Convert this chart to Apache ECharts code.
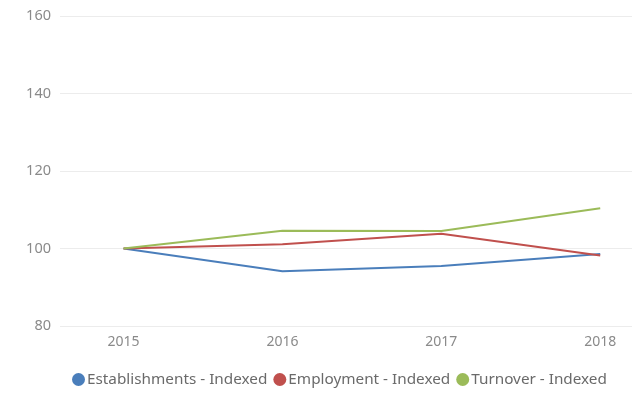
<!DOCTYPE html>
<html>
<head>
<meta charset="utf-8">
<script src="https://cdn.jsdelivr.net/npm/echarts@6/dist/echarts.min.js"></script>
<style>
  html, body { margin: 0; padding: 0; background: #fff; }
  #chart { width: 637px; height: 394px; }
</style>
</head>
<body>
<div id="chart"></div>
<script>
// Index values (2015 = 100)
const years = [2015, 2016, 2017, 2018];
const establishments = [100, 94.1, 95.5, 98.6];
const employment = [100, 101.1, 103.8, 98.2];
const turnover = [100, 104.6, 104.5, 110.4];
const seriesNames = ['Establishments - Indexed', 'Employment - Indexed', 'Turnover - Indexed'];
const seriesColors = ['#4a7ebb', '#c0504d', '#9bbb59'];

const pairs = vals => years.map((y, i) => [y, vals[i]]);

const chart = echarts.init(document.getElementById('chart'), null, { renderer: 'canvas' });
const font = '"Noto Sans", "Open Sans", sans-serif';

chart.setOption({
  animation: false,
  color: seriesColors,
  grid: { left: 60, right: 5, top: 16, bottom: 68 },
  xAxis: {
    type: 'value',
    min: 2014.6,
    max: 2018.2,
    interval: 0.2,
    axisLine: { show: false },
    axisTick: { show: false },
    splitLine: { show: false },
    axisLabel: {
      margin: 9,
      color: '#8a8a8a',
      fontSize: 14,
      fontFamily: font,
      showMinLabel: false,
      showMaxLabel: false,
      formatter: v => Math.abs(v - Math.round(v)) < 1e-6 ? String(Math.round(v)) : ''
    }
  },
  yAxis: {
    type: 'value',
    min: 80,
    max: 160,
    interval: 20,
    axisLine: { show: false },
    axisTick: { show: false },
    axisLabel: { margin: 9, color: '#8a8a8a', fontSize: 14.5, fontFamily: font },
    splitLine: { lineStyle: { color: '#ececec', width: 1 } }
  },
  legend: {
    top: 367,
    left: 67,
    icon: 'circle',
    itemWidth: 13,
    itemHeight: 13,
    itemGap: 6,
    textStyle: { color: '#6a6a6a', fontSize: 15.3, fontFamily: font, padding: [0, 0, 0, -3] },
    data: seriesNames
  },
  series: [
    { name: seriesNames[0], type: 'line', data: pairs(establishments) },
    { name: seriesNames[1], type: 'line', data: pairs(employment) },
    { name: seriesNames[2], type: 'line', data: pairs(turnover) }
  ].map(s => Object.assign(s, { showSymbol: false, symbol: 'none', lineStyle: { width: 2 } }))
});
</script>
</body>
</html>
